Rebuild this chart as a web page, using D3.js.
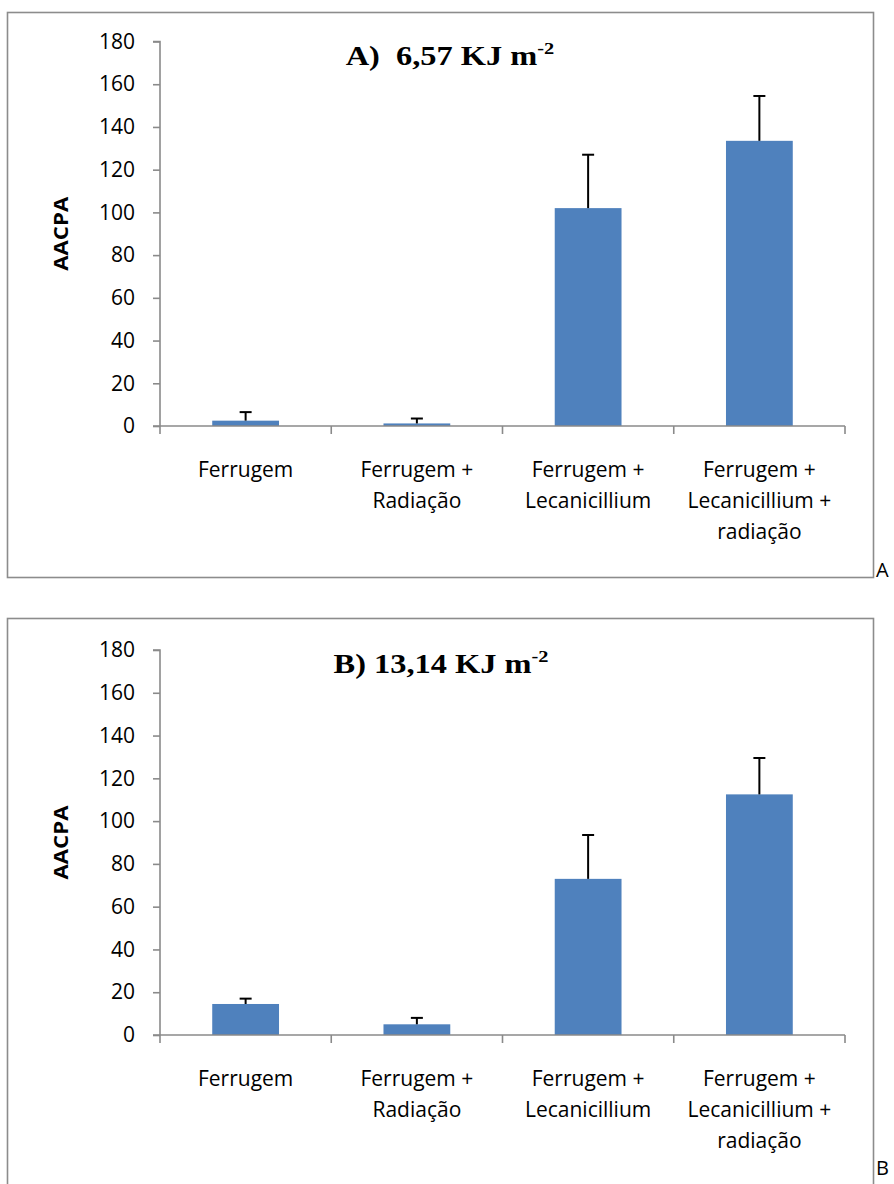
<!DOCTYPE html>
<html>
<head>
<meta charset="utf-8">
<script src="https://cdn.jsdelivr.net/npm/d3@7"></script>
<style>
  html, body { margin: 0; padding: 0; background: #fff; overflow: hidden; }
  svg { display: block; }
</style>
</head>
<body>
<svg id="chart" width="894" height="1184"></svg>
<script>
// Treatments shown on the x axis (each label split into lines)
const categories = [
  ["Ferrugem"],
  ["Ferrugem +", "Radiação"],
  ["Ferrugem +", "Lecanicillium"],
  ["Ferrugem +", "Lecanicillium +", "radiação"]
];

// AACPA means and upper error bar (standard error) for each UV-B dose
const valuesA = [2.5, 1.2, 102, 133.5];
const errorsA = [4, 2.3, 25, 21];
const valuesB = [14.5, 5, 73, 112.5];
const errorsB = [2.5, 3, 20.5, 17];

const yTicks = [0, 20, 40, 60, 80, 100, 120, 140, 160, 180];

const panels = [
  { title: "A)\u00a0\u00a06,57 KJ m", tag: "A", values: valuesA, errors: errorsA,
    frame: [7, 12, 873, 577], yTop: 41.5, yBottom: 426, tagY: 577, titleX: 450 },
  { title: "B) 13,14 KJ m", tag: "B", values: valuesB, errors: errorsB,
    frame: [7, 618, 873, 1200], yTop: 650, yBottom: 1035, tagY: 1175, titleX: 441 }
];

const svg = d3.select("#chart");
const axisColor = "#8a8a8a";
const barColor = "#4f81bd";
const sans = "Open Sans, sans-serif";

panels.forEach(p => {
  const g = svg.append("g");
  const [fx0, fy0, fx1, fy1] = p.frame;

  // chart-area border
  g.append("rect")
    .attr("x", fx0 + 0.5).attr("y", fy0 + 0.5)
    .attr("width", fx1 - fx0).attr("height", fy1 - fy0)
    .attr("fill", "none").attr("stroke", "#8c8c8c").attr("stroke-width", 1.6);

  // side tag
  g.append("text")
    .attr("x", fx1 + 3).attr("y", p.tagY)
    .attr("font-family", sans).attr("font-size", 20)
    .attr("fill", "#000").text(p.tag);

  const x = d3.scaleBand().domain(d3.range(categories.length))
    .range([160, 845]).paddingInner(0.61).paddingOuter(0.305);
  const y = d3.scaleLinear().domain([0, 180]).range([p.yBottom, p.yTop]);

  // y axis
  const yAxis = d3.axisLeft(y).tickValues(yTicks).tickSize(7).tickPadding(18);
  const ya = g.append("g").attr("transform", "translate(160,0)").call(yAxis);
  ya.select(".domain").attr("stroke", axisColor).attr("stroke-width", 1.6)
    .attr("d", `M-7,${p.yTop}H0V${p.yBottom}`);
  ya.selectAll(".tick line").attr("stroke", axisColor).attr("stroke-width", 1.6);
  ya.selectAll(".tick text")
    .attr("font-family", sans).attr("font-size", 21)
    .attr("fill", "#000");

  // bars
  g.selectAll("rect.bar").data(p.values).enter().append("rect")
    .attr("class", "bar")
    .attr("x", (d, i) => x(i)).attr("width", x.bandwidth())
    .attr("y", d => y(d)).attr("height", d => y(0) - y(d))
    .attr("fill", barColor);

  // x axis baseline with category boundary ticks
  const step = x.step();
  const bounds = d3.range(categories.length + 1).map(i => 160 + i * step);
  g.append("line")
    .attr("x1", 153).attr("x2", 845)
    .attr("y1", y(0)).attr("y2", y(0))
    .attr("stroke", axisColor).attr("stroke-width", 1.6);
  g.selectAll("line.xtick").data(bounds).enter().append("line")
    .attr("class", "xtick")
    .attr("x1", d => d).attr("x2", d => d)
    .attr("y1", y(0)).attr("y2", y(0) + 8)
    .attr("stroke", axisColor).attr("stroke-width", 1.6);

  // upper error bars
  const cx = i => x(i) + x.bandwidth() / 2;
  const eb = g.selectAll("g.err").data(p.values).enter().append("g").attr("class", "err");
  eb.append("line")
    .attr("x1", (d, i) => cx(i)).attr("x2", (d, i) => cx(i))
    .attr("y1", d => y(d))
    .attr("y2", (d, i) => y(d + p.errors[i]))
    .attr("stroke", "#000").attr("stroke-width", 2);
  eb.append("line")
    .attr("x1", (d, i) => cx(i) - 6).attr("x2", (d, i) => cx(i) + 6)
    .attr("y1", (d, i) => y(d + p.errors[i]))
    .attr("y2", (d, i) => y(d + p.errors[i]))
    .attr("stroke", "#000").attr("stroke-width", 2);

  // category labels
  categories.forEach((lines, i) => {
    const t = g.append("text")
      .attr("x", cx(i))
      .attr("y", y(0) + 51)
      .attr("text-anchor", "middle")
      .attr("font-family", sans).attr("font-size", 21)
      .attr("fill", "#000");
    lines.forEach((ln, k) => {
      t.append("tspan").attr("x", cx(i))
        .attr("dy", k === 0 ? 0 : 31).text(ln);
    });
  });

  // y-axis title
  g.append("text")
    .attr("transform", `translate(68,${(p.yTop + p.yBottom) / 2}) rotate(-90)`)
    .attr("text-anchor", "middle")
    .attr("font-family", sans).attr("font-size", 20)
    .attr("font-weight", "bold").attr("fill", "#000")
    .attr("textLength", 74).attr("lengthAdjust", "spacingAndGlyphs")
    .text("AACPA");

  // chart title with superscript unit
  const tg = g.append("g")
    .attr("transform", `translate(${p.titleX},${p.yTop + 23}) scale(1.2,1)`);
  const tt = tg.append("text")
    .attr("x", 0).attr("y", 0)
    .attr("text-anchor", "middle")
    .attr("font-family", "Liberation Serif, Times New Roman, serif")
    .attr("font-size", 27).attr("font-weight", "bold").attr("fill", "#000");
  tt.append("tspan").text(p.title);
  tt.append("tspan").attr("font-size", 17).attr("dy", -11).text("-2");
});
</script>
</body>
</html>
